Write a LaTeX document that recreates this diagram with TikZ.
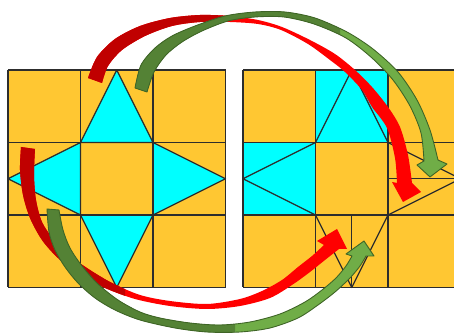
\documentclass[tikz,border=0pt]{standalone}
\usepackage{xcolor}
\usepackage{tikz}
\definecolor{TileGold}{RGB}{255,199,50}
\definecolor{TileCyan}{RGB}{0,255,255}
\definecolor{GridLine}{RGB}{45,45,45}
\definecolor{ArrRedDark}{RGB}{192,0,0}
\definecolor{ArrRed}{RGB}{255,0,0}
\definecolor{ArrGreenDark}{RGB}{84,130,53}
\definecolor{ArrGreen}{RGB}{112,173,71}
\definecolor{ArrGreenEdge}{RGB}{62,100,38}

% arrow outlines (pixel coordinates, y pointing down)
\def\pathRedTop{plot[smooth] coordinates {(88,78) (97,57) (115,39) (140,26) (170,18) (200,15) (230,16) (258,20) (282,27) (310,40) (335,54) (355,70) (372,87) (388,107) (400,127) (408,155) (412,183)}
  -- (421,192) -- (403,202) -- (392,182)
  -- plot[smooth] coordinates {(397,183) (395,158) (387,128) (372,107) (362,90) (345,72) (330,60) (308,44) (281,30) (258,24) (230,22) (200,22) (172,26) (145,36) (122,50) (108,66) (102,83)} -- cycle}
\def\pathGreenTop{plot[smooth] coordinates {(135,88) (141,65) (155,48) (172,36) (195,26) (225,16) (255,12) (285,12) (315,18) (347,32) (373,49) (398,72) (417,100) (430,130) (438,160)}
  -- (447,164) -- (430,177) -- (417,165)
  -- plot[smooth] coordinates {(424,161) (421,133) (410,106) (393,80) (372,58) (346,38) (314,24) (284,17) (255,17) (228,21) (202,31) (182,42) (166,55) (154,72) (147,92)} -- cycle}
\def\pathRedLow{plot[smooth] coordinates {(21,147) (20,170) (23,195) (30,218) (42,240) (58,258) (80,275) (105,288) (135,299) (170,306) (207,309) (240,306) (270,298) (292,285) (310,272) (325,260) (339,249)}
  -- (347,249) -- (337,229) -- (317,241)
  -- plot[smooth] coordinates {(324,245) (312,256) (298,267) (282,280) (262,291) (240,299) (207,304) (170,301) (140,295) (112,283) (90,270) (70,256) (54,240) (42,222) (36,200) (34,175) (35,149)} -- cycle}
\def\pathGreenLow{plot[smooth] coordinates {(47,209) (49,232) (55,250) (65,267) (78,283) (95,298) (115,310) (140,320) (175,328) (207,332) (240,332) (270,328) (298,318) (318,305) (335,292) (350,278) (360,266) (366,256)}
  -- (374,256) -- (364,241) -- (346,254)
  -- plot[smooth] coordinates {(352,256) (346,266) (336,278) (322,290) (305,302) (280,314) (250,322) (220,325) (190,323) (160,318) (140,312) (118,300) (98,284) (82,266) (70,248) (63,230) (59,210)} -- cycle}

\begin{document}
\begin{tikzpicture}[x=0.02cm, y=-0.02cm,
    edge/.style={draw=GridLine, line width=0.7pt, line join=round},
    greenedge/.style={draw=ArrGreenEdge, line width=0.5pt, line join=round}]
  \clip (0,0) rectangle (454,334);

  % left board: the star
  \fill[TileGold] (8,70) rectangle (225.5,287.5);
  \filldraw[fill=TileCyan, edge] (80.5,142.5) -- (116.75,70) -- (153,142.5) -- cycle;
  \filldraw[fill=TileCyan, edge] (80.5,215) -- (116.75,287.5) -- (153,215) -- cycle;
  \filldraw[fill=TileCyan, edge] (80.5,142.5) -- (8,178.75) -- (80.5,215) -- cycle;
  \filldraw[fill=TileCyan, edge] (153,142.5) -- (225.5,178.75) -- (153,215) -- cycle;
  \foreach \k in {0,...,3} {
    \draw[edge] ({8+72.5*\k},70) -- ({8+72.5*\k},287.5);
    \draw[edge] (8,{70+72.5*\k}) -- (225.5,{70+72.5*\k});
  }

  % right board: pieces moved
  \fill[TileGold] (243,70) rectangle (460.5,287.5);
  \fill[TileCyan] (315.5,70) rectangle (388,142.5);
  \fill[TileCyan] (243,142.5) rectangle (315.5,215);
  \foreach \k in {0,...,3} {
    \draw[edge] ({243+72.5*\k},70) -- ({243+72.5*\k},287.5);
    \draw[edge] (243,{70+72.5*\k}) -- (460.5,{70+72.5*\k});
  }
  \draw[edge] (315.5,142.5) -- (351.75,70) -- (388,142.5);
  \draw[edge] (315.5,142.5) -- (243,178.75) -- (315.5,215);
  \draw[edge] (388,142.5) -- (460.5,178.75) -- (388,215);
  \draw[edge] (388,178.75) -- (460.5,178.75);
  \draw[edge] (315.5,215) -- (351.75,287.5) -- (388,215);
  \draw[edge] (351.75,215) -- (351.75,287.5);

  % curved arrows
  \fill[ArrRed] \pathRedTop;
  \begin{scope}
    \clip (0,0) rectangle (225,334);
    \fill[ArrRedDark] \pathRedTop;
  \end{scope}
  \fill[ArrGreen] \pathGreenTop;
  \begin{scope}
    \clip (0,0) rectangle (340,334);
    \fill[ArrGreenDark] \pathGreenTop;
  \end{scope}
  \draw[greenedge] \pathGreenTop;

  \fill[ArrRed] \pathRedLow;
  \begin{scope}
    \clip (0,0) rectangle (125,334);
    \fill[ArrRedDark] \pathRedLow;
  \end{scope}
  \fill[ArrGreen] \pathGreenLow;
  \begin{scope}
    \clip (0,0) rectangle (235,334);
    \fill[ArrGreenDark] \pathGreenLow;
  \end{scope}
  \draw[greenedge] \pathGreenLow;
\end{tikzpicture}
\end{document}
